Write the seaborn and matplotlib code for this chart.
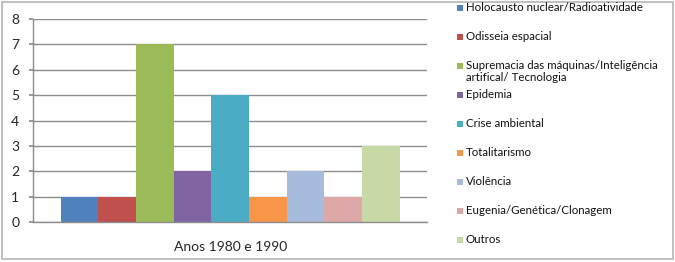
import matplotlib

matplotlib.use("Agg")

import matplotlib.pyplot as plt
import pandas as pd
import seaborn as sns
from matplotlib.patches import Rectangle

period = "Anos 1980 e 1990"
themes = [
    "Holocausto nuclear/Radioatividade",
    "Odisseia espacial",
    "Supremacia das máquinas/Inteligência\nartifical/ Tecnologia",
    "Epidemia",
    "Crise ambiental",
    "Totalitarismo",
    "Violência",
    "Eugenia/Genética/Clonagem",
    "Outros",
]
counts = [1, 1, 7, 2, 5, 1, 2, 1, 3]
colors = ["#4F81BD", "#C0504D", "#9BBB59", "#8064A2", "#4BACC6",
          "#F79646", "#A7BCDD", "#DDA8A7", "#C8D9A8"]
y_ticks = [0, 1, 2, 3, 4, 5, 6, 7, 8]

df = pd.DataFrame({"periodo": [period] * len(themes), "tema": themes, "n": counts})

sns.set_theme(style="white")
plt.rcParams["font.family"] = ["Lato", "DejaVu Sans"]

W, H = 675, 262
fig = plt.figure(figsize=(W / 100, H / 100), dpi=100)
ax = fig.add_axes([0.049, 0.153, 0.584, 0.774])

sns.barplot(data=df, x="periodo", y="n", hue="tema", hue_order=themes,
            palette=colors, width=0.86, saturation=1, linewidth=0,
            ax=ax, legend=False)

ax.set_xlim(-0.5, 0.5)
ax.set_ylim(0, 8)
ax.set_yticks(y_ticks)
ax.yaxis.grid(True, color="#8c8c8c", linewidth=1)
ax.set_axisbelow(True)
ax.set_xlabel("")
ax.set_ylabel("")
for side in ["top", "right"]:
    ax.spines[side].set_visible(False)
for side in ["left", "bottom"]:
    ax.spines[side].set_color("#8c8c8c")
    ax.spines[side].set_linewidth(1)
ax.tick_params(axis="y", left=True, length=3, color="#8c8c8c", labelsize=10, pad=7)
ax.tick_params(axis="x", bottom=False, labelsize=10, pad=8)

# legend drawn entry by entry, Excel-style fixed pitch
first_y, pitch = 8, 29
for i, (label, color) in enumerate(zip(themes, colors)):
    yc = first_y + i * pitch
    fig.patches.append(Rectangle((457 / W, 1 - (yc + 3) / H), 6 / W, 6 / H,
                                 transform=fig.transFigure, facecolor=color,
                                 edgecolor="none"))
    fig.text(466 / W, 1 - (yc - 6) / H, label, fontsize=8.3, va="top", ha="left",
             linespacing=1.15, color="#111111")

fig.patches.append(Rectangle((0.003, 0.012), 0.994, 0.98, transform=fig.transFigure,
                             fill=False, edgecolor="#b5b5b5", linewidth=1.2))

fig.savefig("out.png", dpi=100)
